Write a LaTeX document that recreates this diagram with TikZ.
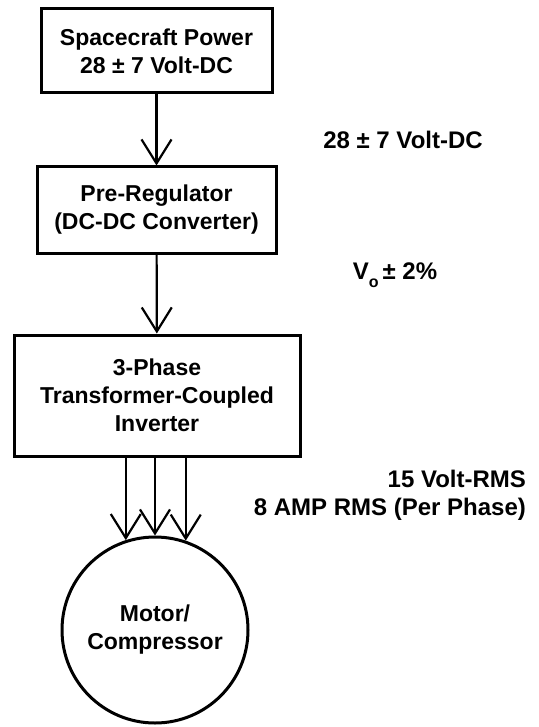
\documentclass[tikz,border=0pt]{standalone}
\usepackage{fontspec}
\setmainfont{Liberation Sans}
\usetikzlibrary{arrows.meta}

\tikzset{
    unitbox/.style={draw, line width=1.5pt, align=center, font=\bfseries\fontsize{11.5}{14}\selectfont},
    flow/.style={line width=1.1pt, -{Straight Barb[length=12pt, width=15pt, line width=1.1pt]}},
    sidelabel/.style={font=\bfseries\fontsize{12}{14}\selectfont}
}

\begin{document}
\begin{tikzpicture}[x=0.5pt, y=-0.5pt]
    \useasboundingbox (0,0) rectangle (538,727);
    % Blocks
    \node[unitbox, minimum width=115.5pt, minimum height=42pt] (scp) at (156.5,51) {Spacecraft Power\\28 ± 7 Volt-DC};
    \node[unitbox, minimum width=119.5pt, minimum height=43pt] (prg) at (156.5,210) {Pre-Regulator\\(DC-DC Converter)};
    \node[unitbox, minimum width=143pt, minimum height=60.5pt] (inv) at (157,395.5) {3-Phase\\Transformer-Coupled\\Inverter};
    \node[draw, circle, line width=1.5pt, minimum size=93pt, align=center, font=\bfseries\fontsize{11.5}{14}\selectfont] (mc) at (155,630) {Motor/\\Compressor};

    % Connectors
    \draw[flow] (scp) -- (prg);
    \draw[flow] (prg) -- (inv);
    \foreach \a in {108.8, 90, 71.2} {
        \draw[flow] (mc.\a |- inv.south) -- (mc.\a);
    }

    % Labels
    \node[sidelabel] (l1) at (403,140) {28 ± 7 Volt-DC};
    \node[sidelabel] (l2) at (395,275) {V\raisebox{-0.6ex}{\fontsize{8}{8}\selectfont o}\,± 2\%};
    \node[sidelabel, align=right, anchor=east] (l3) at (533,495) {15 Volt-RMS\\8 AMP RMS (Per Phase)};
\end{tikzpicture}
\end{document}
